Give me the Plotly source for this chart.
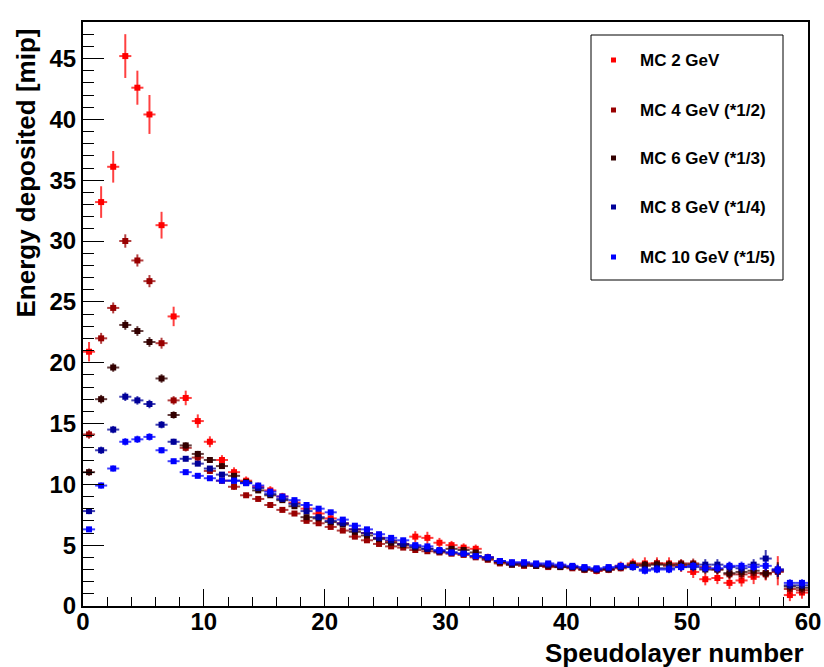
import plotly.graph_objects as go

# ---------------- data ----------------
layers = list(range(60))  # pseudolayer index; points drawn at bin centres

mc2 = [20.9, 33.2, 36.1, 45.2, 42.6, 40.4, 31.3, 23.8, 17.1, 15.2,
       13.5, 12.0, 11.0, 10.3, 9.8, 9.5, 9.0, 8.5, 8.0, 7.6,
       7.2, 6.8, 6.3, 6.0, 5.6, 5.3, 5.1, 5.7, 5.6, 5.2,
       5.0, 4.8, 4.7, 4.0, 3.6, 3.5, 3.5, 3.4, 3.3, 3.3,
       3.2, 3.0, 2.9, 3.0, 3.3, 3.5, 3.5, 3.5, 3.5, 3.3,
       2.8, 2.2, 2.3, 1.9, 2.1, 2.4, 2.7, 2.9, 0.9, 1.1]
err2 = [0.8, 1.3, 1.3, 1.8, 1.4, 1.6, 1.1, 0.8, 0.6, 0.55,
        0.45, 0.4, 0.4, 0.35, 0.35, 0.35, 0.3, 0.3, 0.3, 0.3,
        0.3, 0.3, 0.3, 0.3, 0.3, 0.3, 0.3, 0.45, 0.5, 0.4,
        0.35, 0.35, 0.35, 0.3, 0.3, 0.3, 0.3, 0.3, 0.3, 0.3,
        0.3, 0.3, 0.3, 0.3, 0.35, 0.4, 0.5, 0.5, 0.5, 0.5,
        0.5, 0.5, 0.5, 0.5, 0.5, 0.6, 0.6, 1.2, 0.5, 0.5]

mc4 = [14.1, 22.0, 24.5, 30.0, 28.4, 26.7, 21.6, 16.9, 13.0, 12.2,
       11.1, 10.3, 9.8, 9.1, 8.8, 8.3, 7.9, 7.6, 7.0, 6.8,
       6.5, 6.2, 5.7, 5.4, 5.1, 4.9, 4.8, 4.6, 4.5, 4.4,
       4.3, 4.2, 4.0, 3.8, 3.5, 3.4, 3.3, 3.3, 3.2, 3.2,
       3.1, 3.0, 2.9, 3.0, 3.1, 3.3, 3.3, 3.5, 3.3, 3.5,
       3.5, 3.2, 3.0, 2.6, 2.6, 2.7, 2.6, 2.8, 1.4, 1.3]
err4 = [0.35, 0.45, 0.45, 0.55, 0.5, 0.5, 0.45, 0.35, 0.3, 0.3,
        0.25, 0.25, 0.25, 0.2, 0.2, 0.2, 0.2, 0.2, 0.2, 0.2,
        0.2, 0.2, 0.2, 0.2, 0.2, 0.2, 0.2, 0.2, 0.2, 0.2,
        0.2, 0.2, 0.2, 0.2, 0.2, 0.2, 0.2, 0.2, 0.2, 0.2,
        0.2, 0.2, 0.2, 0.2, 0.25, 0.3, 0.3, 0.35, 0.35, 0.35,
        0.4, 0.4, 0.4, 0.4, 0.4, 0.45, 0.45, 0.6, 0.4, 0.4]

mc6 = [11.0, 17.0, 19.6, 23.1, 22.6, 21.7, 18.7, 15.7, 13.2, 12.5,
       12.0, 11.5, 10.7, 10.2, 9.5, 9.1, 8.7, 8.2, 7.3, 7.2,
       6.9, 6.7, 6.1, 5.8, 5.5, 5.2, 5.0, 4.8, 4.7, 4.5,
       4.7, 4.6, 4.4, 3.9, 3.6, 3.4, 3.4, 3.3, 3.3, 3.2,
       3.2, 3.0, 3.0, 3.0, 3.2, 3.4, 3.4, 3.4, 3.4, 3.4,
       3.4, 3.0, 3.0, 2.7, 2.8, 2.9, 2.7, 3.0, 1.6, 1.5]
err6 = [0.3, 0.35, 0.35, 0.4, 0.4, 0.4, 0.35, 0.3, 0.25, 0.25,
        0.2, 0.2, 0.2, 0.2, 0.2, 0.2, 0.2, 0.2, 0.2, 0.2,
        0.2, 0.2, 0.2, 0.2, 0.2, 0.2, 0.2, 0.2, 0.2, 0.2,
        0.2, 0.2, 0.2, 0.2, 0.2, 0.2, 0.2, 0.2, 0.2, 0.2,
        0.2, 0.2, 0.2, 0.2, 0.25, 0.3, 0.3, 0.3, 0.35, 0.35,
        0.35, 0.35, 0.35, 0.4, 0.4, 0.4, 0.45, 0.6, 0.35, 0.35]

mc8 = [7.8, 12.8, 14.5, 17.2, 16.9, 16.6, 14.9, 13.5, 12.1, 11.7,
       11.3, 10.8, 10.3, 10.1, 9.7, 9.2, 8.8, 8.4, 7.8, 7.3,
       7.0, 6.8, 6.3, 6.0, 5.6, 5.4, 5.1, 4.9, 4.7, 4.5,
       4.4, 4.3, 4.1, 4.0, 3.7, 3.5, 3.5, 3.4, 3.4, 3.3,
       3.2, 3.1, 3.0, 3.1, 3.2, 3.2, 3.0, 3.1, 3.1, 3.2,
       3.2, 3.4, 3.4, 3.2, 3.1, 3.4, 3.9, 2.9, 1.7, 1.7]
err8 = [0.25, 0.3, 0.3, 0.35, 0.35, 0.35, 0.3, 0.25, 0.2, 0.2,
        0.2, 0.2, 0.2, 0.2, 0.2, 0.2, 0.2, 0.2, 0.2, 0.2,
        0.2, 0.2, 0.2, 0.2, 0.2, 0.2, 0.2, 0.2, 0.2, 0.2,
        0.2, 0.2, 0.2, 0.2, 0.2, 0.2, 0.2, 0.2, 0.2, 0.2,
        0.2, 0.2, 0.2, 0.2, 0.25, 0.3, 0.3, 0.3, 0.35, 0.35,
        0.35, 0.45, 0.45, 0.4, 0.4, 0.45, 0.7, 0.5, 0.3, 0.3]

mc10 = [6.3, 9.9, 11.3, 13.5, 13.7, 13.9, 12.8, 11.9, 11.0, 10.7,
        10.5, 10.3, 10.3, 10.1, 9.9, 9.4, 9.0, 8.7, 8.3, 8.0,
        7.7, 7.1, 6.6, 6.3, 5.9, 5.6, 5.4, 5.0, 4.9, 4.6,
        4.4, 4.3, 4.1, 4.0, 3.7, 3.6, 3.6, 3.5, 3.5, 3.4,
        3.3, 3.2, 3.1, 3.2, 3.3, 3.2, 2.9, 3.0, 3.0, 3.2,
        3.3, 3.1, 3.1, 3.3, 3.3, 3.2, 3.3, 3.0, 1.9, 1.9]
err10 = [0.2, 0.25, 0.25, 0.3, 0.3, 0.3, 0.25, 0.2, 0.2, 0.2,
         0.2, 0.2, 0.2, 0.2, 0.2, 0.2, 0.2, 0.2, 0.2, 0.2,
         0.2, 0.2, 0.2, 0.2, 0.2, 0.2, 0.2, 0.2, 0.2, 0.2,
         0.2, 0.2, 0.2, 0.2, 0.2, 0.2, 0.2, 0.2, 0.2, 0.2,
         0.2, 0.2, 0.2, 0.2, 0.25, 0.25, 0.3, 0.3, 0.3, 0.3,
         0.3, 0.35, 0.35, 0.35, 0.35, 0.35, 0.4, 0.4, 0.3, 0.3]

series_names = ["MC 2 GeV", "MC 4 GeV (*1/2)", "MC 6 GeV (*1/3)",
                "MC 8 GeV (*1/4)", "MC 10 GeV (*1/5)"]
series_values = [mc2, mc4, mc6, mc8, mc10]
series_errors = [err2, err4, err6, err8, err10]
series_colors = ["#ff0000", "#990000", "#330000", "#000099", "#0000ff"]
series_bar_colors = ["rgba(255,0,0,0.75)", "rgba(153,0,0,0.75)", "rgba(51,0,0,0.75)",
                     "rgba(0,0,153,0.75)", "rgba(0,0,255,0.75)"]

x_ticks = [0, 10, 20, 30, 40, 50, 60]
y_ticks = [0, 5, 10, 15, 20, 25, 30, 35, 40, 45]

# ---------------- figure ----------------
FONT = "Liberation Sans, Arial, Helvetica, sans-serif"
fig = go.Figure()

xc = [l + 0.5 for l in layers]
for name, vals, errs, col, bcol in zip(series_names, series_values, series_errors,
                                        series_colors, series_bar_colors):
    fig.add_trace(go.Scatter(
        x=xc, y=vals, mode="markers", name=name, showlegend=False,
        marker=dict(symbol="square", size=6, color=col),
        error_y=dict(type="data", array=errs, visible=True, color=bcol,
                     thickness=2, width=0),
        error_x=dict(type="constant", value=0.5, visible=True, color=bcol,
                     thickness=2, width=0),
    ))

L, R, T, B = 83, 16, 22, 61
W, H = 824, 667
pw, ph = W - L - R, H - T - B

def px_x(p):
    return (p - L) / pw

def px_y(p):
    return (H - B - p) / ph

# manual legend (ROOT TLegend look)
fig.add_shape(type="rect", xref="paper", yref="paper",
              x0=px_x(591), x1=px_x(783), y0=px_y(280), y1=px_y(35),
              line=dict(color="black", width=1), fillcolor="white", layer="above")
leg_y = [60, 110, 158, 207, 257]
for name, col, yy in zip(series_names, series_colors, leg_y):
    fig.add_shape(type="rect", xref="paper", yref="paper",
                  x0=px_x(611), x1=px_x(616), y0=px_y(yy + 2.5), y1=px_y(yy - 2.5),
                  line=dict(width=0), fillcolor=col, layer="above")
    fig.add_annotation(xref="paper", yref="paper", x=px_x(638), y=px_y(yy),
                       xanchor="left", yanchor="middle", showarrow=False,
                       text=name, font=dict(family=FONT, size=17, color="black",
                                            weight="bold"))

# axis titles (ROOT style: aligned at the axis ends)
fig.add_annotation(xref="paper", yref="paper", x=px_x(25), y=px_y(27),
                   xanchor="center", yanchor="top", showarrow=False, textangle=-90,
                   text="Energy deposited [mip]",
                   font=dict(family=FONT, size=26, color="black", weight="bold"))
fig.add_annotation(xref="paper", yref="paper", x=px_x(806), y=px_y(653),
                   xanchor="right", yanchor="middle", showarrow=False,
                   text="Speudolayer number",
                   font=dict(family=FONT, size=26, color="black", weight="bold"))

fig.update_layout(
    width=W, height=H, autosize=False,
    margin=dict(l=L, r=R, t=T, b=B, autoexpand=False),
    paper_bgcolor="white", plot_bgcolor="white",
    showlegend=False,
    font=dict(family=FONT, color="black"),
)
fig.update_xaxes(
    range=[0, 60], tickvals=x_ticks, ticktext=[str(v) for v in x_ticks],
    automargin=False,
    ticks="inside", ticklen=17, tickwidth=1, tickcolor="black",
    minor=dict(dtick=2, ticks="inside", ticklen=9, tickwidth=1, tickcolor="black"),
    showline=True, linecolor="black", linewidth=2, mirror=True,
    showgrid=False, zeroline=False, ticklabelstandoff=-7,
    tickfont=dict(family=FONT, size=24, color="black", weight="bold"),
)
fig.update_yaxes(
    range=[0, 48], tickvals=y_ticks, ticktext=[str(v) for v in y_ticks],
    automargin=False,
    ticks="inside", ticklen=21, tickwidth=1, tickcolor="black",
    minor=dict(dtick=1, ticks="inside", ticklen=11, tickwidth=1, tickcolor="black"),
    showline=True, linecolor="black", linewidth=2, mirror=True,
    showgrid=False, zeroline=False,
    tickfont=dict(family=FONT, size=24, color="black", weight="bold"),
)

fig.write_html("out.html")
